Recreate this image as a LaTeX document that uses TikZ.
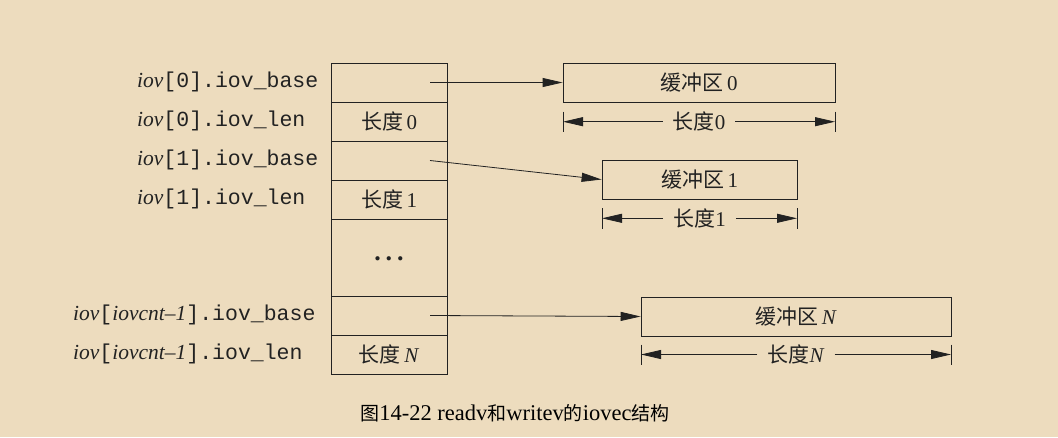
\documentclass[tikz,border=0pt]{standalone}
\usepackage{fontspec}
\setmainfont{Liberation Serif}
\setmonofont{Liberation Mono}
\newfontfamily\cjk{Noto Sans CJK SC}
\usetikzlibrary{arrows.meta}
\definecolor{bg}{HTML}{EDDCBE}
\definecolor{ink}{HTML}{222222}
\begin{document}
\begin{tikzpicture}[x=1pt,y=-1pt,
  cell/.style={draw=ink, line width=0.8pt, minimum width=116pt, minimum height=39pt, inner sep=0pt, text=ink, font=\fontsize{21}{24}\selectfont},
  buf/.style={draw=ink, line width=0.8pt, inner sep=0pt, minimum height=39pt, text=ink, font=\fontsize{21}{24}\selectfont},
  lbl/.style={anchor=base west, inner sep=0pt, text=ink, font=\fontsize{21.5}{24}\selectfont\ttfamily},
  ptr/.style={draw=ink, line width=0.8pt, -{Triangle[length=20pt,width=9pt]}},
  tick/.style={draw=ink, line width=0.8pt},
  dimlbl/.style={inner sep=0pt, text=ink, font=\fontsize{21}{24}\selectfont}
]
\fill[bg] (0,0) rectangle (1058,437);
\useasboundingbox (0,0) rectangle (1058,437);

% iovec array cells
\node[cell] (r0b) at (389,82.5) {};
\node[cell] (r0l) at (389,121.5) {{\cjk 长度}\,0};
\node[cell] (r1b) at (389,160.5) {};
\node[cell] (r1l) at (389,199.5) {{\cjk 长度}\,1};
\node[cell, minimum height=77pt] (rd) at (389,257.5) {};
\node[inner sep=0pt, text=ink, font=\fontsize{26}{28}\selectfont\bfseries] (dots) at (389,259) {.\hspace{5pt}.\hspace{5pt}.};
\node[cell] (rNb) at (389,315.5) {};
\node[cell] (rNl) at (389,354.5) {{\cjk 长度}\,\textit{N}};

% labels
\node[lbl] (l0b) at (137,87.5) {{\rmfamily\itshape iov}[0].iov\_base};
\node[lbl] (l0l) at (137,126.5) {{\rmfamily\itshape iov}[0].iov\_len};
\node[lbl] (l1b) at (137,165.5) {{\rmfamily\itshape iov}[1].iov\_base};
\node[lbl] (l1l) at (137,204.5) {{\rmfamily\itshape iov}[1].iov\_len};
\node[lbl] (lNb) at (73,320.5) {{\rmfamily\itshape iov}[{\rmfamily\itshape iovcnt--1}].iov\_base};
\node[lbl] (lNl) at (73,359.5) {{\rmfamily\itshape iov}[{\rmfamily\itshape iovcnt--1}].iov\_len};

% buffers
\node[buf, minimum width=272pt] (b0) at (699,82.5) {{\cjk 缓冲区}\,0};
\node[buf, minimum width=195pt] (b1) at (699.5,179.5) {{\cjk 缓冲区}\,1};
\node[buf, minimum width=310pt] (bN) at (796,316.5) {{\cjk 缓冲区}\,\textit{N}};

% pointers
\coordinate (p0) at (430,82.5);
\coordinate (p1) at (430,160.5);
\coordinate (pN) at (430,315.5);
\draw[ptr] (p0) -- (b0.west);
\draw[ptr] (p1) -- (b1.west);
\draw[ptr] (pN) -- (bN.west);

% dimension lines
\node[dimlbl, inner xsep=10pt] (d0) at (699,121.7) {{\cjk 长度}0};
\coordinate (d0l) at (563,121.7); \coordinate (d0r) at (835,121.7);
\draw[tick] (563,111.5) -- (563,131.5);
\draw[tick] (835,111.5) -- (835,131.5);
\draw[ptr] (d0.west) -- (d0l);
\draw[ptr] (d0.east) -- (d0r);

\node[dimlbl, inner xsep=10pt] (d1) at (699.5,218.3) {{\cjk 长度}1};
\coordinate (d1l) at (602,218.3); \coordinate (d1r) at (797,218.3);
\draw[tick] (602,208) -- (602,228.5);
\draw[tick] (797,208) -- (797,228.5);
\draw[ptr] (d1.west) -- (d1l);
\draw[ptr] (d1.east) -- (d1r);

\node[dimlbl, inner xsep=10pt] (dN) at (796,354.5) {{\cjk 长度}\textit{N}};
\coordinate (dNl) at (641,354.5); \coordinate (dNr) at (951,354.5);
\draw[tick] (641,344.5) -- (641,364.5);
\draw[tick] (951,344.5) -- (951,364.5);
\draw[ptr] (dN.west) -- (dNl);
\draw[ptr] (dN.east) -- (dNr);

% caption
\node[inner sep=0pt, text=black] (cap) at (515,413) {{\cjk\fontsize{19}{22}\selectfont 图}{\fontsize{22.5}{24}\selectfont 14-22 readv}{\cjk\fontsize{19}{22}\selectfont 和}{\fontsize{22.5}{24}\selectfont writev}{\cjk\fontsize{19}{22}\selectfont 的}{\fontsize{22.5}{24}\selectfont iovec}{\cjk\fontsize{19}{22}\selectfont 结构}};
\end{tikzpicture}
\end{document}
